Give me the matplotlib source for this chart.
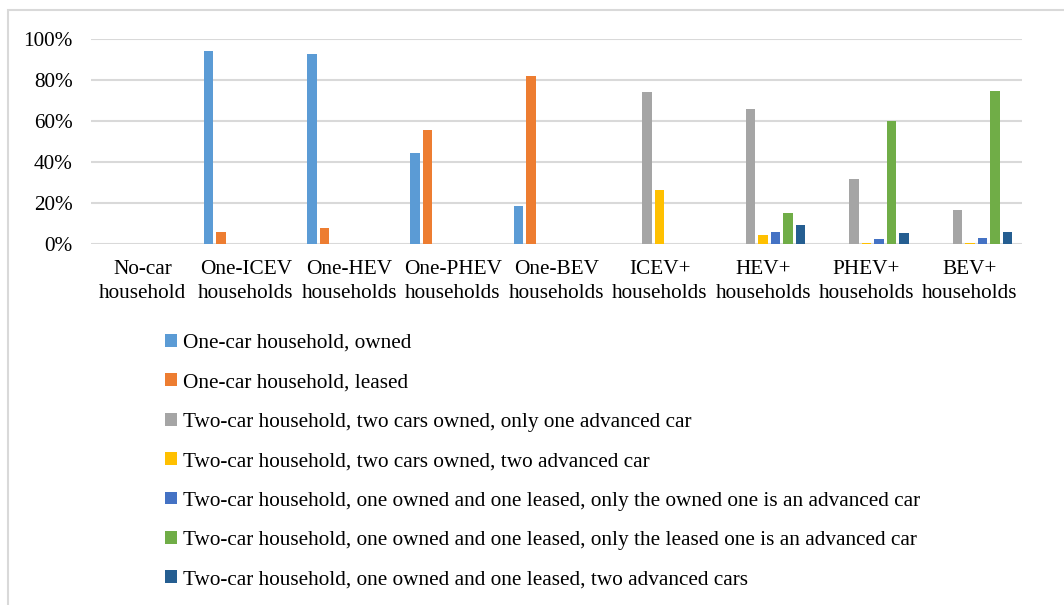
import matplotlib
matplotlib.use("Agg")
import matplotlib.pyplot as plt
import numpy as np
from matplotlib.patches import Rectangle
from matplotlib.ticker import PercentFormatter

categories = ["No-car\nhousehold", "One-ICEV\nhouseholds", "One-HEV\nhouseholds",
              "One-PHEV\nhouseholds", "One-BEV\nhouseholds", "ICEV+\nhouseholds",
              "HEV+\nhouseholds", "PHEV+\nhouseholds", "BEV+\nhouseholds"]

series_names = [
    "One-car household, owned",
    "One-car household, leased",
    "Two-car household, two cars owned, only one advanced car",
    "Two-car household, two cars owned, two advanced car",
    "Two-car household, one owned and one leased, only the owned one is an advanced car",
    "Two-car household, one owned and one leased, only the leased one is an advanced car",
    "Two-car household, one owned and one leased, two advanced cars",
]

one_owned      = [0, 94.1, 92.5, 44.2, 18.2, 0, 0, 0, 0]
one_leased     = [0, 5.7, 7.5, 55.6, 81.7, 0, 0, 0, 0]
two_owned_one  = [0, 0, 0, 0, 0, 73.9, 65.6, 31.4, 16.4]
two_owned_two  = [0, 0, 0, 0, 0, 26.0, 4.4, 0.3, 0.3]
mixed_owned    = [0, 0, 0, 0, 0, 0, 5.7, 2.1, 2.8]
mixed_leased   = [0, 0, 0, 0, 0, 0, 14.8, 60.0, 74.3]
mixed_two      = [0, 0, 0, 0, 0, 0, 9.0, 5.4, 5.7]

series = [one_owned, one_leased, two_owned_one, two_owned_two,
          mixed_owned, mixed_leased, mixed_two]
colors = ["#5B9BD5", "#ED7D31", "#A5A5A5", "#FFC000", "#4472C4", "#70AD47", "#255E91"]

plt.rcParams['font.family'] = ['Liberation Serif', 'DejaVu Serif']
FS = 15.3

fig = plt.figure(figsize=(10.64, 6.05), dpi=100)
ax = fig.add_axes([90.7/1064, (605-243.7)/605, 931/1064, 205/605])

x = np.arange(len(categories))
pitch = 0.121
width = 0.092
handles = []
for i, (vals, c) in enumerate(zip(series, colors)):
    b = ax.bar(x + (i - 3) * pitch, vals, width=width, color=c, zorder=3)
    handles.append(b)

ax.set_xlim(-0.5, len(categories) - 0.5)
ax.set_ylim(0, 100)
ax.set_yticks([0, 20, 40, 60, 80, 100])
ax.yaxis.set_major_formatter(PercentFormatter(decimals=0))
ax.set_xticks(x)
ax.set_xticklabels(categories, fontsize=FS, linespacing=1.32)
ax.tick_params(axis='y', labelsize=FS, length=0, pad=13)
ax.tick_params(axis='x', length=0, pad=12)
ax.grid(axis='y', color="#D9D9D9", linewidth=1.5, zorder=0)
for s in ax.spines.values():
    s.set_visible(False)

leg = fig.legend(handles, series_names, loc='upper left',
                 bbox_to_anchor=(165/1064, 1 - 334/605), frameon=False,
                 fontsize=FS, handlelength=0.55, handleheight=0.55,
                 handletextpad=0.3, labelspacing=0.96, borderpad=0, borderaxespad=0)

fig.add_artist(Rectangle((8/1064, -0.1), 1.2, 0.1 + (605-10)/605,
                         transform=fig.transFigure, fill=False,
                         edgecolor="#D9D9D9", linewidth=1.5))

fig.savefig("out.png", dpi=100)
